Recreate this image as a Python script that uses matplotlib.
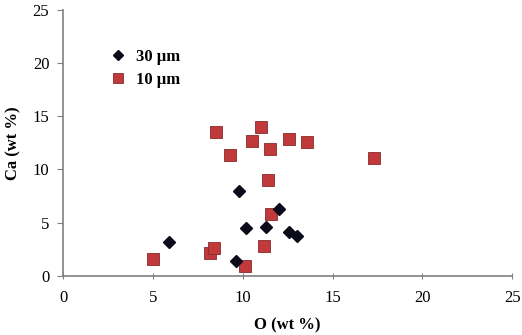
import matplotlib
matplotlib.use('Agg')
import matplotlib.pyplot as plt

# 30 um series (black diamonds)
o_30 = [5.9, 9.8, 10.2, 9.6, 11.3, 12.0, 12.6, 13.0]
ca_30 = [3.2, 8.0, 4.5, 1.4, 4.6, 6.3, 4.1, 3.7]

# 10 um series (red squares)
o_10 = [5.0, 8.2, 8.4, 10.1, 11.2, 11.6, 11.4, 8.5, 9.3, 10.5, 11.0, 11.5, 12.6, 13.6, 17.3]
ca_10 = [1.6, 2.1, 2.6, 0.9, 2.8, 5.8, 9.0, 13.5, 11.4, 12.7, 14.0, 11.9, 12.9, 12.6, 11.1]

xticks = [0, 5, 10, 15, 20, 25]
yticks = [0, 5, 10, 15, 20, 25]

plt.rcParams['font.family'] = ['Liberation Serif', 'DejaVu Serif']

fig = plt.figure(figsize=(5.22, 3.35), dpi=100)
ax = fig.add_axes([0.121, 0.177, 0.860, 0.793])

ax.plot(o_30, ca_30, 'D', color='#0b0b1a', markersize=6, label='30 µm', zorder=3)
ax.plot(o_10, ca_10, 's', color='#c0393b', markeredgecolor='#8a2a2a',
        markeredgewidth=0.6, markersize=8, label='10 µm', zorder=2)

ax.set_xlim(0, 25)
ax.set_ylim(0, 25)
ax.set_xticks(xticks)
ax.set_yticks(yticks)

for s in ['top', 'right']:
    ax.spines[s].set_visible(False)
for s in ['left', 'bottom']:
    ax.spines[s].set_color('#808080')
    ax.spines[s].set_linewidth(1.2)

ax.tick_params(axis='y', direction='out', length=4, color='#808080', labelsize=12, pad=6)
ax.tick_params(axis='x', direction='inout', length=5, color='#808080', labelsize=12, pad=8)

ax.set_xlabel('O (wt %)', fontsize=12, fontweight='bold', labelpad=8)
ax.set_ylabel('Ca (wt %)', fontsize=12, fontweight='bold', labelpad=8)

leg = ax.legend(loc='upper left', bbox_to_anchor=(0.07, 0.88), frameon=False,
                prop={'weight': 'bold', 'size': 12}, handletextpad=0.1,
                labelspacing=0.45, borderaxespad=0, markerscale=0.9)

fig.savefig('out.png', dpi=100)
